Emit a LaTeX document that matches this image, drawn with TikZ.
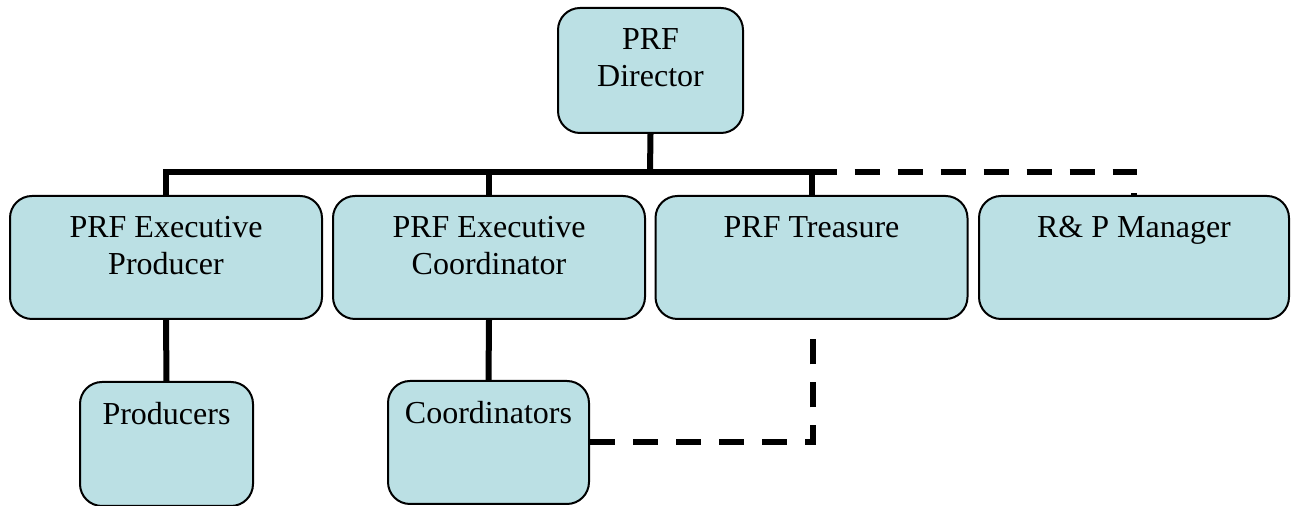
\documentclass[tikz,border=0pt]{standalone}
\usepackage{fontspec}
\setmainfont{Liberation Serif}
\usetikzlibrary{positioning}
\definecolor{postfill}{RGB}{187,224,228}
\tikzset{
  post/.style={draw, line width=1pt, rounded corners=11pt, fill=postfill, inner sep=0pt},
  caption/.style={anchor=north, inner sep=0pt, yshift=-10.5pt, align=center,
    font=\fontsize{16}{18.5}\selectfont},
  solidlink/.style={line width=3pt},
  dashlink/.style={line width=3pt, dash pattern=on 12.5pt off 9pt}
}
\begin{document}
\begin{tikzpicture}[x=0.5pt,y=-0.5pt]
      \useasboundingbox (0,0) rectangle (1291,506);
      \node[post, minimum width=92.5pt, minimum height=62.5pt,
        label={[caption]north:{PRF\\Director}}] (dir) at (650.5,70.5) {};
      \node[post, minimum width=156pt, minimum height=61.5pt,
        label={[caption]north:{PRF Executive\\Producer}}] (exprod) at (166,257.5) {};
      \node[post, minimum width=156pt, minimum height=61.5pt,
        label={[caption]north:{PRF Executive\\Coordinator}}] (excoord) at (489,257.5) {};
      \node[post, minimum width=156pt, minimum height=61.5pt,
        label={[caption]north:{PRF Treasure}}] (treas) at (811.5,257.5) {};
      \node[post, minimum width=155pt, minimum height=61.5pt,
        label={[caption]north:{R\& P Manager}}] (rpm) at (1134,257.5) {};
      \node[post, minimum width=86.5pt, minimum height=62pt,
        label={[caption]north:{Producers}}] (prod) at (166.5,444) {};
      \node[post, minimum width=100.5pt, minimum height=61.5pt,
        label={[caption]north:{Coordinators}}] (coord) at (488.5,442.5) {};
      \coordinate (hub) at (650,172);
      \coordinate (tq) at (813,333);
      \begin{scope}[solidlink]
        \draw (dir.south) -- (hub);
        \draw (exprod.north) |- (hub) -| (treas.north);
        \draw (excoord.north) -- (excoord.north |- hub);
        \draw (exprod.south) -- (prod.north);
        \draw (excoord.south) -- (coord.north);
      \end{scope}
      \begin{scope}[dashlink]
        \draw (treas.north |- hub) -| (rpm.north);
        \draw (coord.east) -| (tq);
      \end{scope}
    \end{tikzpicture}
\end{document}
